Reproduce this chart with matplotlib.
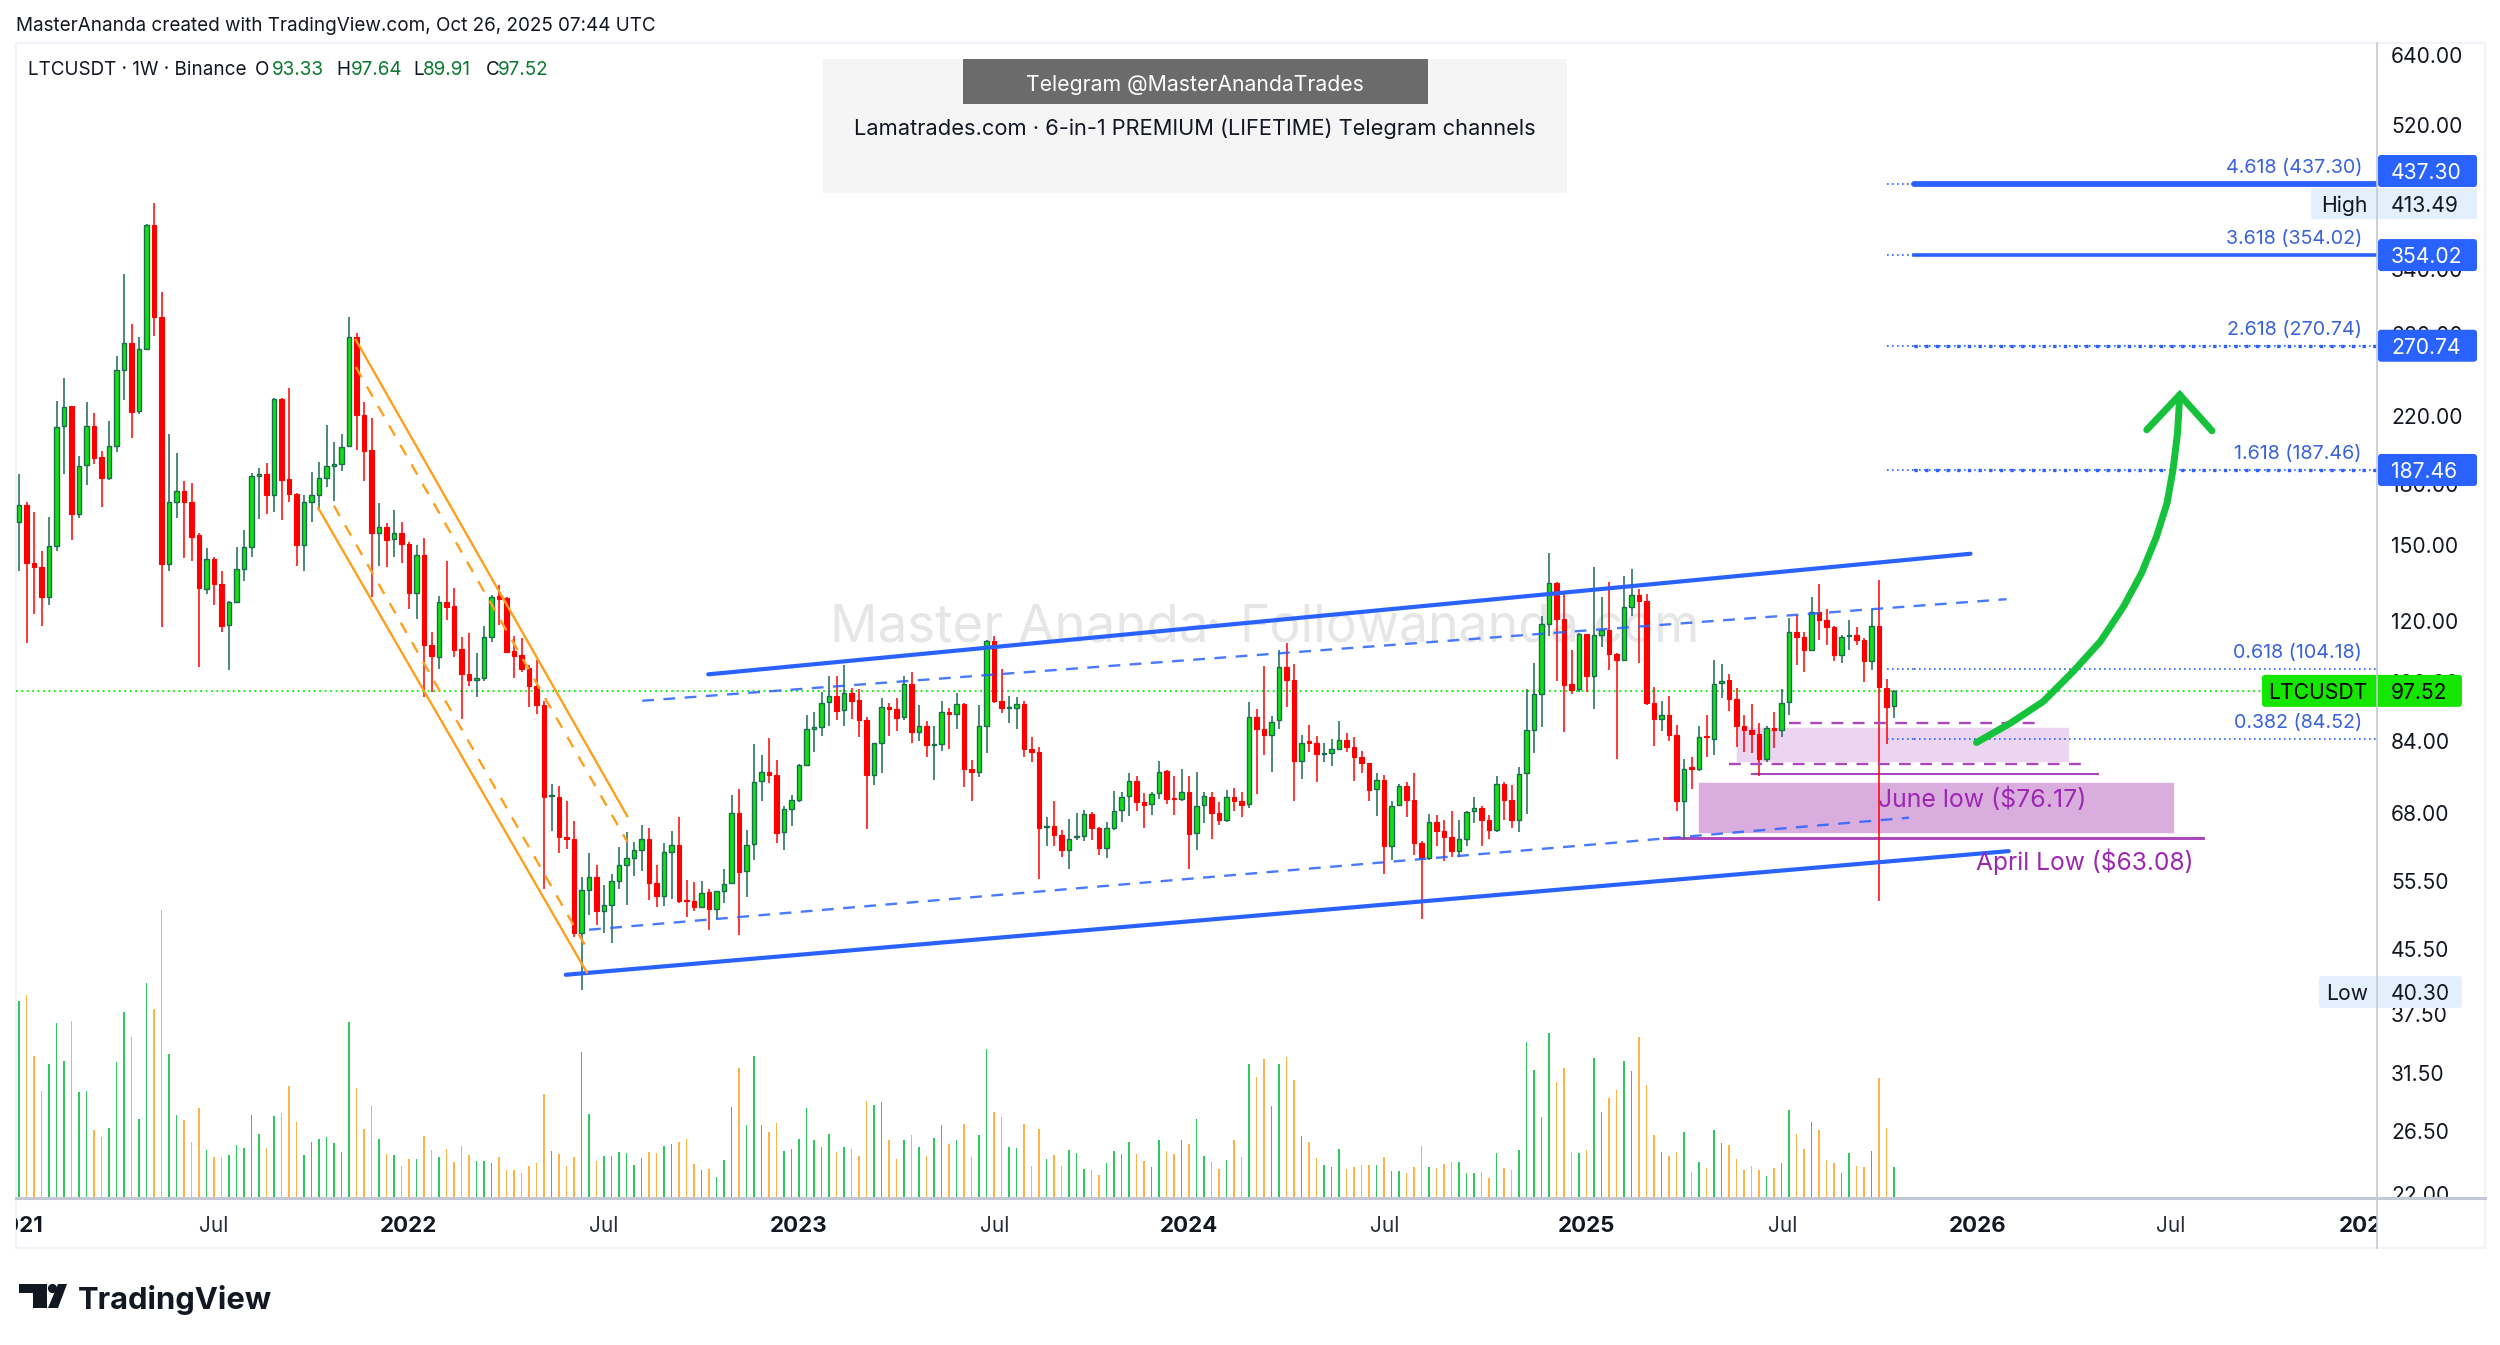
import matplotlib
matplotlib.use("Agg")
from matplotlib import pyplot as plt
from matplotlib.patches import FancyBboxPatch, Rectangle, Polygon, Circle
import numpy as np

plt.rcParams["font.family"] = ["Inter", "DejaVu Sans"]

W, H = 2500, 1345

# weekly LTCUSDT candles
opens = [160.9,169.1,142.3,140.5,128.9,149.9,213.2,226.6,164.6,190.3,
         213.5,194.7,183.3,201.4,252.1,272.8,223.2,268,387,295,
         141.9,170.7,175.9,170.3,154.8,132,144.2,133.8,118.4,127,
         140,149.1,183.9,185.1,174,231.2,182.6,174.8,150.2,170.7,
         174.3,183,189.6,191,201.2,278.2,220.5,198.9,155.4,158.3,
         152.7,155.6,150.5,130.1,145.8,111.7,107.9,127,125.4,110.3,
         102.5,100.8,101.2,114.5,129.1,128.4,109.8,108.4,104.2,99,
         93.4,71.4,71.3,63.3,62.9,47.7,54.1,56.2,50.8,51.8,
         55.5,58.2,59.4,60.9,62.9,55.3,53.1,60.6,61.8,52.6,
         52.3,51.5,53.8,51.2,53.9,55.2,67.9,57.2,61.9,74.6,
         76.7,76.1,64.2,68.7,70.6,78.3,87.2,87.5,94.3,96.1,
         92.2,97,94.8,89.5,76,83.7,93,92.3,90.2,99.6,
         86.3,87.8,83.1,83.3,91.7,91,93.7,77.4,76.8,88,
         113,94.5,92.8,92.7,93.7,82.2,81.5,65.2,65.3,63.6,
         60.9,63.3,63.4,67.8,64.9,61.3,65,68.5,71.4,74.6,
         70.2,69.7,72,76.9,71.1,70.8,72.4,64,69.5,71.3,
         67.9,66.6,71.3,70.4,69.7,90.2,87,85.7,89.4,104.6,
         100.8,79.3,84.1,83.7,81,81.1,82,84.2,82.6,80.1,
         78.7,73,75,61.7,69.5,73.6,70.7,62.2,59.5,66.1,
         64.5,63.3,60.7,62.9,68.3,68.9,66.6,64.6,74,70.7,
         66.6,76.4,86.9,96.7,119,134.3,120.6,99.5,98,115.3,
         102,115,116.6,108.6,106.7,125,129.5,127.3,94.1,89.7,
         90.8,85.7,70.3,77.8,77.4,85.2,84.6,99.7,100.6,95.2,
         88,86.9,85.9,79.8,87.3,86.9,94.3,116,114.2,110,
         123,120.3,117.7,108.5,114.6,115,113.3,106.5,118.2,98.4,93.33]
highs = [185.3,170.3,165.5,147.3,163.3,230.2,246.4,226.6,195.6,229.5,
         221.7,198.1,217,262.7,334.9,288.8,278.2,387.8,413.5,317,
         208.4,196.9,181.6,180.6,155.6,148.7,144.8,139.2,127.4,149.1,
         157,185.7,188.8,191.6,231.8,231.8,239.2,175.3,174.1,186.3,
         192.1,214,203.9,208.4,295,281,229,218.9,169.9,160.4,
         166.3,160.8,151.4,150.2,153.4,116,129,143.3,132.3,114.5,
         115.7,109,118.1,129.6,133.4,128.7,114.7,114,105.3,106.9,
         94.5,74.1,73.7,70.3,66.4,56.2,60.3,58.2,54.9,56.8,
         61.5,64.3,62.3,65.6,65,58.2,62.2,64.5,67.2,55.8,
         55.4,55.5,54.3,53.9,57.5,71.7,73,64.7,83.3,80.7,
         84.8,79.5,69.4,71.6,78.6,90.9,91.7,97.2,102,102,
         105.2,98.3,98,90.2,83.6,95.5,94.1,95.5,101.8,103.1,
         93.5,89.3,88,94.6,92.7,97,94.1,79.5,93.5,113.2,
         114.6,104.1,96.1,95.7,94.5,85.1,82.7,67.1,70.4,64.7,
         66.7,68,68.5,68.2,65.1,66.1,72.6,72.3,76.5,75.8,
         72.1,72.4,79.2,77.2,75.8,77.5,75.8,76.8,72.4,72.4,
         70.1,72.8,73.2,72.4,94.4,92.4,105.1,90.4,109.9,112.5,
         105.6,85.7,88.2,85.2,83.6,84.6,89.2,86.1,85,81.7,
         78.7,76.5,76.1,70.3,74,74.4,76.5,62.5,67.8,67.6,
         66.5,68.3,66.5,68.3,71.3,69.3,67.6,75.9,74.4,73.9,
         77.9,98,106,121.6,146.8,134.7,130,110.1,115.7,115.4,
         140.6,128.9,134.7,109.2,137,139.8,131.8,129.7,98.6,94.5,
         96.1,88.2,79.8,80.3,87.8,90.7,106.7,105.6,102.5,98.3,
         90.7,93.9,88.6,88,91.7,98,120.9,122.1,115.9,128.7,
         133.8,124.2,118,115.1,120.3,117.7,114,124.2,135.4,101,97.64]
lows = [139.2,112.5,122.5,118.1,125.8,147.7,185.1,152.4,162.8,179.4,
        190.9,167.8,182.1,197.9,230.7,206.3,221,267.4,279,117.8,
        139.2,162.8,144.4,143,104.8,129.9,125.8,116,103.6,126.8,
        135.1,144.8,162.1,164.5,165.3,161.7,170.5,140.9,139.2,160.9,
        165.8,178.1,170.8,187.1,201.2,198.9,181.7,128.9,140.9,140.7,
        144.8,142.3,124.3,120.5,95.9,97.1,104.1,120.3,107.9,89.8,
        98.8,95.9,100.5,112.7,118.6,109.2,101.4,103,93.1,91.1,
        54.3,64.4,60.3,61,47.1,40.3,50.2,48.8,47.7,46.3,
        54.3,51.7,56.4,57.2,52.5,51.4,51.6,52.7,52,49.9,
        50.8,51.3,48.1,49.6,52,55,47.4,53,59.1,70.3,
        74.3,62.2,60.9,65.3,70.1,78.1,81.5,85.2,88,89.5,
        87.8,89.7,85.1,64.8,73.8,76.5,85.4,86.5,89.5,83.7,
        84,80.3,75,81.7,82.2,87.2,73.4,70.5,75.5,81.1,
        94.1,91.3,88.8,87.1,80.1,79,55.9,61.7,61.7,59.7,
        57.5,62.8,62.5,62.8,60,59.5,64.7,66.2,67.4,68.3,
        64.9,67.6,70.8,69.8,67.6,70.3,57.6,60.9,65.9,63,
        65.5,66.2,68.3,67.1,69,71.8,80.6,76.8,87.2,93,
        70.3,75.2,81.5,74.5,79.1,78,81.9,81.5,74.8,76.5,
        70.3,67.3,56.7,59.1,69.4,67.2,60,49.7,59.1,61.7,
        58.9,59.7,59.7,61.7,65.9,61.6,63,64.2,66.6,65,
        64.2,67.7,81.2,87.6,114.6,100.3,86.3,96.7,97.3,97.1,
        92.4,111,103.8,79.7,106.4,121.8,105.9,93.4,82.9,86.7,
        84,68.3,62.9,73,77,80.3,80.7,95.5,92,82.7,
        81.5,81.1,75.9,79.1,82.3,85,90.9,105.2,103,109.9,
        113.4,111.7,106.4,106,110.1,111.7,100,103.6,52.4,83.4,89.91]
closes = [169.1,142.3,140.5,128.9,149.9,212.8,226.1,164.5,189.9,213.2,
          194.4,183.3,201.4,251.6,272.8,222.8,268,387,295,141.9,
          170.4,175.9,170.3,153.9,132.2,144,133.8,118.1,127,139.8,
          149.1,183.9,185.1,174,231.2,182.1,174.8,150.1,170.4,173.9,
          182.8,189.4,191,200.8,278.2,220.7,198.5,155.4,158.3,152.4,
          155.6,150.4,130.1,145.8,111.7,108.1,127,125,110.1,102.4,
          100.7,101.2,114.3,128.9,128.1,109.5,108.2,104.1,98.8,93.4,
          71.2,71.7,63.3,62.9,47.7,54.1,56.2,50.8,51.8,55.5,
          58.2,59.4,60.9,62.9,55.3,53.1,60.6,61.8,52.3,52.3,
          51.5,53.7,51.2,53.9,55.1,67.9,57.1,61.8,74.5,76.6,
          76.1,64.1,68.7,70.6,78.3,87,87.5,94.2,96.1,92,
          97,94.7,89.5,76,83.6,93,92.3,90.1,99.6,86.4,
          87.8,83.1,83.3,91.7,91,93.7,77.4,76.8,87.8,113,
          94.5,92.6,93.1,93.7,82.2,81.5,64.9,65.4,63.6,60.9,
          63,63.5,67.8,64.9,61.2,65,68.4,71.3,74.6,70.2,
          69.6,71.9,76.8,70.9,70.9,72.4,63.9,69.3,71.4,67.9,
          66.6,71.3,70.4,69.6,90.2,87,85.7,89,104.6,100.8,
          79.3,83.7,83.7,80.8,81.2,82,84.2,82.6,80.1,78.7,
          72.8,75,61.7,69.4,73.6,70.7,62.2,59.5,66.1,64.5,
          63.3,60.7,62.9,68.2,68.9,66.6,64.6,74,70.7,66.6,
          76.3,86.8,96.6,119,134.3,120.6,99.3,97.8,115.3,102,
          115,116.6,108.6,106.8,125,129.5,127.3,94.1,89.7,90.8,
          85.7,70.3,77.5,77.5,85.1,85,99.6,100.5,95.2,88,
          86.9,85.9,79.8,87.3,86.9,94.1,116,114.2,109.9,123,
          120.3,117.7,108.4,114.3,115,113.3,106.4,118.2,98.6,93.1,97.52]
volumes = [197,203,142,107,134,175,137,177,106,107,
           68,61,70,136,186,161,79,215,189,288,
           144,83,78,56,90,48,41,41,43,53,
           50,83,64,50,82,85,112,76,43,56,
           59,61,55,46,176,110,69,92,59,44,
           43,32,39,39,62,48,41,49,36,52,
           43,37,37,35,41,28,28,25,32,35,
           104,47,44,32,41,146,84,37,42,42,
           46,45,33,40,46,45,52,54,56,59,
           34,28,29,21,38,91,130,73,142,73,
           66,75,47,49,59,90,58,51,64,46,
           51,49,42,97,93,96,58,39,58,63,
           51,42,60,73,54,58,74,41,63,149,
           86,81,51,50,74,32,69,39,43,32,
           48,45,29,28,23,35,47,44,56,44,
           37,31,58,47,44,58,54,79,42,36,
           29,38,58,41,134,121,139,92,134,141,
           118,62,56,40,33,31,49,29,31,33,
           33,33,41,27,27,25,31,52,31,30,
           34,36,36,25,25,26,20,45,30,28,
           48,156,128,81,165,116,130,46,45,48,
           140,86,100,108,137,127,161,113,63,46,
           42,46,66,26,36,30,68,55,53,39,
           28,32,28,22,30,35,88,64,49,76,
           68,38,35,25,45,32,31,47,120,70,31]

price_ticks = [640, 520, 420, 340, 280, 220, 180, 150, 120, 100, 84, 68, 55.5, 45.5, 37.5, 31.5, 26.5, 22]
time_ticks = [-0.2, 26, 51.9, 78, 104, 130.1, 156, 182.1, 209, 235.1, 261.1, 286.9, 313]
time_labels = ["2021", "Jul", "2022", "Jul", "2023", "Jul", "2024", "Jul", "2025", "Jul", "2026", "Jul", "2027"]

fib_labels = ["4.618", "3.618", "2.618", "1.618", "0.618", "0.382"]
fib_prices = [437.30, 354.02, 270.74, 187.46, 104.18, 84.52]

last_price = 97.52
high_price = 413.49
low_price = 40.30
june_low = 76.17
april_low = 63.08

# drawings: (bar index, price) pairs
channel_upper = ([91.9, 260.2], [102.4, 146.3])
channel_lower = ([72.9, 265.3], [42.1, 60.7])
channel_upper_mid = ([83.1, 265], [94.7, 127.9])
channel_lower_mid = ([76, 252], [48.1, 67])
fall_upper = ([44.9, 81.1], [275.5, 67.3])
fall_upper_mid = ([44.9, 81.1], [254.2, 62.4])
fall_lower_mid = ([42, 76], [168.6, 45])
fall_lower = ([39.9, 75.7], [167.5, 42.4])
arrow_x = [261.0, 265.5, 269.9, 273.9, 277.5, 280.6, 283.0, 285.0, 286.4, 287.2, 287.8, 288.1]
arrow_y = [83.7, 88.6, 94.5, 103.3, 112.8, 125.1, 138.1, 153.9, 169.9, 187.5, 209, 234.1]
arrow_head_x = [283.7, 288.1, 292.4]
arrow_head_y = [211.1, 234.1, 210.5]

C_GREEN = "#13e010"
C_GREEN_EDGE = "#1b6b50"
C_RED = "#ff0000"
C_BLUE = "#2962ff"
C_ORANGE = "#ff9f1c"
C_PURPLE = "#ab47bc"
C_TEXT = "#131722"
C_FIB = "#3a62d9"
VA = "center_baseline"


def frame(x0, y0, x1, y1, z):
    a = fig.add_axes([x0 / W, 1 - y1 / H, (x1 - x0) / W, (y1 - y0) / H], zorder=z)
    a.patch.set_alpha(0)
    a.set_axis_off()
    return a


fig = plt.figure(figsize=(W / 100, H / 100), dpi=100, facecolor="white")

back = frame(0, 0, W, H, 0)
back.set_xlim(0, W)
back.set_ylim(H, 0)

vol_ax = frame(16, 43, 2377, 1198, 1)
ax = frame(16, 43, 2377, 1198, 2)
time_ax = frame(16, 1199, 2377, 1248, 2)
price_ax = frame(2378, 43, 2485, 1198, 2)
over = frame(0, 0, W, H, 5)
over.set_xlim(0, W)
over.set_ylim(H, 0)

xlim = (-0.4, 314.4)
for a in (ax, vol_ax, time_ax):
    a.set_xlim(*xlim)
ax.set_yscale("log")
ax.set_ylim(21.75, 663)
price_ax.set_yscale("log")
price_ax.set_ylim(21.75, 663)
price_ax.set_xlim(2378, 2485)
vol_ax.set_ylim(0, 1155)
time_ax.set_ylim(1, 0)

x = np.arange(len(closes))
o, h, l, c = map(np.array, (opens, highs, lows, closes))
up = c >= o

# volume
vol_colors = np.where(up, "#2ec95c", "#ffb347")
vol_ax.bar(x, volumes, width=0.2, color=vol_colors, linewidth=0)

# candles
ax.vlines(x[up], l[up], h[up], color=C_GREEN_EDGE, linewidth=1.1, zorder=3)
ax.vlines(x[~up], l[~up], h[~up], color=C_RED, linewidth=1.1, zorder=3)
ax.bar(x[up], (c - o)[up], bottom=o[up], width=0.62, color=C_GREEN, edgecolor=C_GREEN_EDGE, linewidth=1.0, zorder=3.2)
ax.bar(x[~up], (o - c)[~up], bottom=c[~up], width=0.66, color=C_RED, edgecolor=C_RED, linewidth=0.8, zorder=3.2)

# watermark goes under everything
back.text(830, 622, "Master Ananda", fontsize=38, color="#e6e6e6", va=VA, ha="left")
back.text(1214, 622, "·", fontsize=38, color="#e6e6e6", va=VA, ha="center")
back.text(1240, 622, "Followananda.com", fontsize=37.2, color="#e6e6e6", va=VA, ha="left")

# price line
ax.axhline(last_price, color="#00f000", linewidth=1.3, linestyle=(0, (1, 2)), zorder=2.5)

# channels
ax.plot(*channel_upper, color=C_BLUE, lw=3.0, zorder=4, solid_capstyle="round")
ax.plot(*channel_lower, color=C_BLUE, lw=3.0, zorder=4, solid_capstyle="round")
ax.plot(*channel_upper_mid, color=C_BLUE, lw=1.7, ls=(0, (5, 4)), alpha=0.85, zorder=4)
ax.plot(*channel_lower_mid, color=C_BLUE, lw=1.7, ls=(0, (5, 4)), alpha=0.85, zorder=4)
ax.plot(*fall_upper, color=C_ORANGE, lw=1.7, zorder=4)
ax.plot(*fall_lower, color=C_ORANGE, lw=1.7, zorder=4)
ax.plot(*fall_upper_mid, color=C_ORANGE, lw=1.7, ls=(0, (5, 4.5)), zorder=4)
ax.plot(*fall_lower_mid, color=C_ORANGE, lw=1.7, ls=(0, (5, 4.5)), zorder=4)

# support boxes
ax.fill_between([229.1, 273.2], 79.3, 87.4, color="#ecd5f0", linewidth=1, zorder=1)
ax.fill_between([224, 287.2], 64.2, 74.2, color="#d9aede", linewidth=1, zorder=1)
ax.plot([236, 269.9], [88.6, 88.6], color=C_PURPLE, lw=1.7, ls=(0, (5, 4)), zorder=4)
ax.plot([228, 276.1], [78.6, 78.6], color=C_PURPLE, lw=1.7, ls=(0, (5, 4)), zorder=4)
ax.plot([231, 277.2], [june_low, june_low], color=C_PURPLE, lw=1.5, zorder=2)
ax.plot([219.3, 291.2], [april_low, april_low], color=C_PURPLE, lw=2.1, zorder=2)

# fib levels
for i, (lab, p) in enumerate(zip(fib_labels, fib_prices)):
    ax.plot([249.1, 252.7], [p, p], color=C_BLUE, lw=1.2, ls=(0, (1, 2)), zorder=4)
    if i == 0:
        ax.plot([252.7, xlim[1]], [p, p], color=C_BLUE, lw=4.2, zorder=4, solid_capstyle="round")
    elif i == 1:
        ax.plot([252.7, xlim[1]], [p, p], color=C_BLUE, lw=2.6, zorder=4)
    elif i in (2, 3):
        ax.plot([252.7, xlim[1]], [p, p], color=C_BLUE, lw=1.2, ls=(0, (1, 2)), zorder=4)
        ax.plot([252.7, xlim[1]], [p, p], color=C_BLUE, lw=2.4, ls=(0, (1, 2.2)), zorder=4)
    else:
        ax.plot([252.7, xlim[1]], [p, p], color=C_BLUE, lw=1.2, ls=(0, (1, 2)), zorder=4)

# arrow
ax.plot(arrow_x, arrow_y, color="#16c23c", lw=5, zorder=5, solid_capstyle="round", solid_joinstyle="round")
ax.plot(arrow_head_x, arrow_head_y, color="#16c23c", lw=5, zorder=5, solid_capstyle="round", solid_joinstyle="miter")


def py(p):
    return H - ax.transData.transform((0, p))[1]


# annotation text
over.text(1982, 797, f"June low (${june_low})", color="#9c27b0", fontsize=17.9, ha="center", va=VA, zorder=6)
over.text(2085, 859, f"April Low (${april_low})", color="#9c27b0", fontsize=17.7, ha="center", va=VA, zorder=6)

for lab, p in zip(fib_labels, fib_prices):
    over.text(2362, py(p) - 18, f"{lab} ({p:.2f})", color=C_FIB, fontsize=14.2, ha="right", va=VA)

# axis labels
for p in price_ticks:
    price_ax.text(2391, p, f"{p:.2f}", fontsize=15.2, color=C_TEXT, ha="left", va=VA, clip_on=True)
for t, lab in zip(time_ticks, time_labels):
    is_year = lab != "Jul"
    time_ax.text(t, 0.52, lab, fontsize=16 if is_year else 15, color=C_TEXT if is_year else "#2a2e39",
                 fontweight="bold" if is_year else "normal", ha="center", va=VA, clip_on=True)

# price tags on the right
def tag(y, x0, x1, color, height=32):
    over.add_patch(FancyBboxPatch((x0, y - height / 2), x1 - x0, height, boxstyle="round,pad=0,rounding_size=3",
                                  fc=color, ec="none", zorder=3))

for p in fib_prices[:4]:
    # the top tag gets pushed up by the High tag below it
    y = py(p) if p != fib_prices[0] else 171
    tag(y, 2378, 2477, C_BLUE)
    over.text(2391, y, f"{p:.2f}", fontsize=15.2, color="white", va=VA, ha="left", zorder=4)

y = 203.5
tag(y, 2311, 2477, "#e3effd", height=31)
over.text(2344, y, "High", fontsize=15.2, color=C_TEXT, ha="center", va=VA, zorder=4)
over.text(2391, y, f"{high_price:.2f}", fontsize=15.2, color=C_TEXT, ha="left", va=VA, zorder=4)

y = 992
tag(y, 2319, 2462, "#e3effd", height=32)
over.text(2347, y, "Low", fontsize=15.2, color=C_TEXT, ha="center", va=VA, zorder=4)
over.text(2391, y, f"{low_price:.2f}", fontsize=15.2, color=C_TEXT, ha="left", va=VA, zorder=4)

y = py(last_price)
tag(y, 2262, 2462, "#14e600", height=32)
over.text(2318, y, "LTCUSDT", fontsize=15.2, color="black", ha="center", va=VA, zorder=4)
over.text(2391, y, f"{last_price:.2f}", fontsize=15.2, color="black", ha="left", va=VA, zorder=4)

# frame and axis lines
back.add_patch(Rectangle((16, 43), 2469, 1205, fc="none", ec="#f0f3fa", lw=1.5))
over.plot([2377, 2377], [43, 1248], color="#c4c8d4", lw=1.2, zorder=3.5)
over.plot([16, 2485], [1198, 1198], color="#c4c8d4", lw=2.2, zorder=2)

# title lines
fig.text(16 / W, 1 - 24 / H, "MasterAnanda created with TradingView.com, Oct 26, 2025 07:44 UTC",
         fontsize=13.6, color=C_TEXT, va=VA)
over.text(28, 68, "LTCUSDT · 1W · Binance", fontsize=13.6, color=C_TEXT, va=VA, zorder=4)
ohlc_x = [255, 336, 413, 486]
ohlc_lab = ["O", "H", "L", "C"]
ohlc_gap = [17, 15, 10, 12]
ohlc_val = [93.33, 97.64, 89.91, 97.52]
for ox, ol, og, ov in zip(ohlc_x, ohlc_lab, ohlc_gap, ohlc_val):
    over.text(ox, 68, ol, fontsize=13.6, color=C_TEXT, va=VA, zorder=4)
    over.text(ox + og, 68, f"{ov:.2f}", fontsize=13.6, color="#0a7a2f", va=VA, zorder=4)

# telegram box
over.add_patch(Rectangle((823, 59), 744, 134, fc="#f5f5f5", ec="none", zorder=1))
over.add_patch(Rectangle((963, 59), 465, 45, fc="#6b6b6b", ec="none", zorder=1.5))
over.text(1195, 83, "Telegram @MasterAnandaTrades", fontsize=15.3, color="white", ha="center", va=VA, zorder=4)
over.text(1195, 127, "Lamatrades.com · 6-in-1 PREMIUM (LIFETIME) Telegram channels", fontsize=15.75, color=C_TEXT,
          ha="center", va=VA, zorder=4)

# logo
over.add_patch(Polygon([(19, 1284), (47, 1284), (47, 1308), (33, 1308), (33, 1293), (19, 1293)], fc="#131722", ec="none"))
over.add_patch(Circle((52.5, 1288.5), 4.6, fc="#131722", ec="none"))
over.add_patch(Polygon([(58, 1284), (67, 1284), (58, 1308), (48, 1308)], fc="#131722", ec="none"))
over.text(78, 1297, "TradingView", fontsize=22.3, fontweight="bold", color="#131722", va=VA, ha="left")

fig.savefig("out.png", dpi=100)
